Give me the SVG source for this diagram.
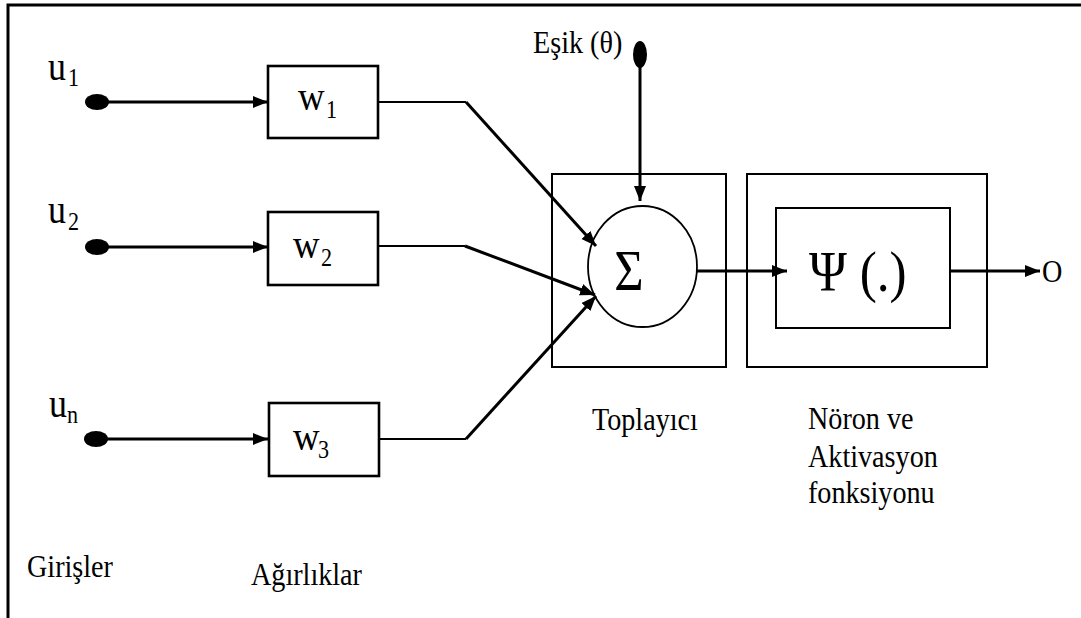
<svg xmlns="http://www.w3.org/2000/svg" width="1081" height="618" viewBox="0 0 1081 618">
<style>
.t{font-family:"Liberation Serif","Times New Roman",serif;fill:#000}
.lbl{font-size:32px}
.big{font-size:40px}
.sub{font-size:26px}
.box{fill:#fff;stroke:#000;stroke-width:2.6}
.thin{fill:none;stroke:#000;stroke-width:2}
.con{fill:none;stroke:#000;stroke-width:3}
.con2{fill:none;stroke:#000;stroke-width:2.2}
</style>
<defs>
<marker id="arr" markerUnits="userSpaceOnUse" markerWidth="16" markerHeight="13" refX="15" refY="6" orient="auto">
<path d="M0,0 L15,6 L0,12 z" fill="#000"/>
</marker>
</defs>
<rect width="1081" height="618" fill="#fff"/>
<path d="M8,618 V5 H1081" fill="none" stroke="#000" stroke-width="3"/>

<g id="input-u1">
<ellipse cx="97" cy="102" rx="12" ry="8" fill="#000"/>
<text class="t big" transform="matrix(0.9 0 0 1 48 80)">u</text><text class="t sub" transform="matrix(0.85 0 0 1 68 86)">1</text>
</g>
<g id="input-u2">
<ellipse cx="97" cy="247" rx="12" ry="8" fill="#000"/>
<text class="t big" transform="matrix(0.9 0 0 1 48 223)">u</text><text class="t sub" transform="matrix(0.85 0 0 1 68 230)">2</text>
</g>
<g id="input-un">
<ellipse cx="96" cy="439" rx="12" ry="8" fill="#000"/>
<text class="t big" transform="matrix(0.9 0 0 1 49 417)">u</text><text class="t sub" transform="matrix(0.85 0 0 1 67 423)">n</text>
</g>

<g id="weight-w1">
<rect class="box" x="268" y="66" width="110" height="72"/>
<text class="t big" transform="matrix(0.92 0 0 1 298 110)">w</text><text class="t sub" transform="matrix(0.85 0 0 1 326 118)">1</text>
</g>
<g id="weight-w2">
<rect class="box" x="268" y="212" width="110" height="73"/>
<text class="t big" transform="matrix(0.92 0 0 1 293 258)">w</text><text class="t sub" transform="matrix(0.85 0 0 1 321 266)">2</text>
</g>
<g id="weight-w3">
<rect class="box" x="269" y="403" width="110" height="73"/>
<text class="t big" transform="matrix(0.92 0 0 1 293 450)">w</text><text class="t sub" transform="matrix(0.85 0 0 1 318 458)">3</text>
</g>

<g id="threshold">
<ellipse cx="640" cy="54.5" rx="7" ry="13.5" fill="#000"/>
<text class="t lbl" transform="matrix(0.88 0 0 1 533 53)">Eşik (θ)</text>
</g>

<g id="summator">
<rect class="thin" x="552" y="174" width="174" height="193"/>
<ellipse cx="642.5" cy="266.5" rx="54.5" ry="60.5" fill="#fff" stroke="#000" stroke-width="1.8"/>
<text class="t" transform="matrix(0.9 0 0 1 629 290)" font-size="56" text-anchor="middle">Σ</text>
</g>

<g id="activation">
<rect class="thin" x="747" y="174" width="240" height="193"/>
<rect class="thin" x="776" y="208" width="174" height="120"/>
<text class="t" transform="matrix(0.9 0 0 1 809 291)" font-size="57">Ψ (.)</text>
</g>

<g id="output">
<text class="t lbl" transform="matrix(0.88 0 0 1 1042 282)">O</text>
</g>

<g id="connectors">
<path class="con" d="M97,102 H268" marker-end="url(#arr)"/>
<path class="con" d="M97,247 H268" marker-end="url(#arr)"/>
<path class="con" d="M96,439 H268" marker-end="url(#arr)"/>
<path class="con2" d="M378,102 H466"/>
<path class="con2" d="M378,246 H465"/>
<path class="con2" d="M379,439 H466"/>
<path class="con" d="M466,102 L596,246" marker-end="url(#arr)"/>
<path class="con" d="M465,246 L595,295" marker-end="url(#arr)"/>
<path class="con" d="M466,439 L596,296" marker-end="url(#arr)"/>
<path class="con" d="M640,60 V201" marker-end="url(#arr)"/>
<path class="con" d="M697,271 H787" marker-end="url(#arr)"/>
<path class="con" d="M950,271 H1040" marker-end="url(#arr)"/>
</g>

<g id="captions">
<text class="t lbl" transform="matrix(0.88 0 0 1 27 577)">Girişler</text>
<text class="t lbl" transform="matrix(0.88 0 0 1 251 585)">Ağırlıklar</text>
<text class="t lbl" transform="matrix(0.88 0 0 1 592 430)">Toplayıcı</text>
<text class="t lbl" transform="matrix(0.88 0 0 1 808 429)">Nöron ve</text>
<text class="t lbl" transform="matrix(0.88 0 0 1 808 467)">Aktivasyon</text>
<text class="t lbl" transform="matrix(0.88 0 0 1 808 503)">fonksiyonu</text>
</g>
</svg>
